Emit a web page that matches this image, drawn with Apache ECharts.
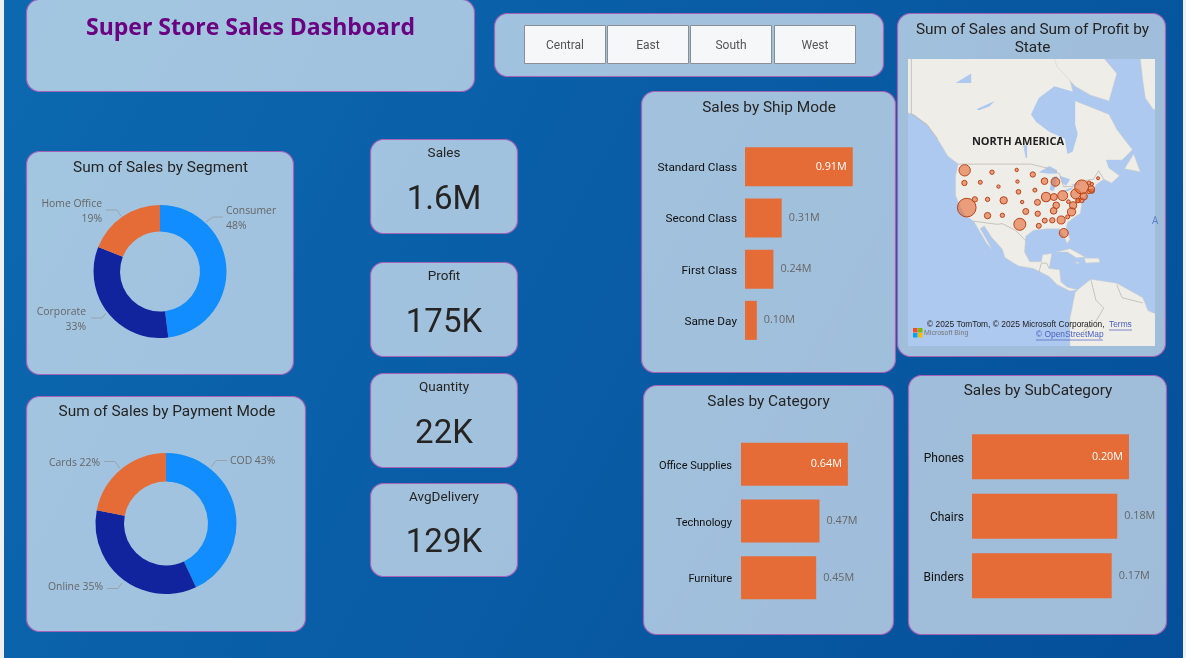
<!DOCTYPE html>
<html><head><meta charset="utf-8">
<style>html,body{margin:0;padding:0;background:#f0f0f0}#c{width:1186px;height:658px}</style>
<script src="https://cdn.jsdelivr.net/npm/echarts@6/dist/echarts.min.js"></script></head>
<body><div id="c"></div>
<script>
// ---------- data ----------
const segmentNames = ['Consumer','Corporate','Home Office'];
const segmentValues = [48,33,19];
const paymentNames = ['COD','Online','Cards'];
const paymentValues = [43,35,22];
const shipModes = ['Standard Class','Second Class','First Class','Same Day'];
const shipSales = [0.91,0.31,0.24,0.10];
const categories = ['Office Supplies','Technology','Furniture'];
const categorySales = [0.64,0.47,0.45];
const subCategories = ['Phones','Chairs','Binders'];
const subCategorySales = [0.20,0.185,0.178];
const subCategoryLabels = ['0.20M','0.18M','0.17M'];
const kpiNames = ['Sales','Profit','Quantity','AvgDelivery'];
const kpiValues = ['1.6M','175K','22K','129K'];
const regions = ['Central','East','South','West'];
const stateNames = ['WA','OR','ID','MT','WY','ND','SD','NE','KS','OK','TX','NM','AZ','UT','CO','NV','CA','MN','IA','MO','AR','LA','WI','IL','MI','IN','OH','KY','TN','MS','AL','GA','FL','SC','NC','VA','WV','PA','NY','MD','DE','NJ','CT','RI','MA','VT','NH','ME','DC'];
const stateLons = [-120.5,-120.6,-114.5,-110,-107.5,-100.5,-100.2,-99.8,-98.4,-97,-99.3,-106,-111.7,-111.7,-105.5,-116.6,-119.7,-94.3,-93.5,-92.5,-92.4,-92,-89.8,-89.2,-85.6,-86.2,-82.8,-85.3,-86.3,-89.7,-86.8,-83.4,-82.4,-80.9,-79.4,-78.8,-80.6,-77.8,-75.5,-76.8,-75.5,-74.7,-72.7,-71.5,-71.8,-72.7,-71.6,-69.2,-77];
const stateLats = [47.4,44,44.2,46.9,43,47.5,44.4,41.5,38.5,35.6,31.5,34.4,34.3,39.3,39,39.3,36.8,46.3,42,38.4,34.9,31,44.5,40,44.3,40,40.4,37.5,35.8,32.7,32.8,32.9,28.6,33.9,35.5,37.5,38.6,40.9,42.9,39,39,40.2,41.6,41.7,42.3,44,43.7,45.3,38.9];
const stateSales = [168,37,21,25,15,15,15,29,15,47,189,25,53,25,71,37,457,37,21,47,37,33,58,114,98,64,131,58,58,33,37,84,106,21,91,71,18,131,257,25,29,71,25,25,58,21,15,12,25];
// rough basemap outlines, [lon, lat]
const oceanOutline = [[[-143,70],[-47,70],[-47,-14],[-143,-14]]];
const landOutlines = [
 [[-168,66],[-156,71],[-141,70],[-128,70],[-110,72],[-95,72],[-85,70],[-80,66],[-78,62.5],[-70,61],[-65,60],[-62,57],[-56,52.5],[-60,50],[-66,50],[-65,48],[-61,46],[-64,44],[-67,45],[-70,43.5],[-71,41.5],[-74,40.5],[-75.5,38],[-76,35],[-78,34],[-81,32],[-81.5,30],[-80,26.5],[-81,25],[-82.7,28],[-84,30],[-89,30],[-94,29.5],[-97,27.5],[-97.5,22],[-95.5,18.5],[-91,18.5],[-90.5,21],[-87,21.5],[-88,16],[-84,15.5],[-83.5,11],[-81,9],[-77,8],[-80,7.5],[-85,10],[-88,13],[-94,16],[-100,17],[-105,20],[-106,23],[-110,27],[-113,31],[-114.5,30],[-110,23],[-112,25],[-115,29.5],[-117,32.5],[-120.5,34.5],[-122.5,37.5],[-124,40.5],[-124,46],[-123,49],[-127,51],[-131,55],[-135,58],[-140,60],[-147,61],[-152,59],[-160,55],[-165,55],[-160,59],[-165,62]],
 [[-80,74],[-62,67],[-65,62.5],[-72,63.5],[-78,65],[-85,68],[-90,73]],
 [[-54,72],[-52,66],[-51,63],[-48,61],[-40,60],[-30,70]],
 [[-59,47.8],[-55.5,51.5],[-53,47]],
 [[-85,22],[-80,23.2],[-74.2,20.2],[-77.5,19.9],[-81,22]],
 [[-74.4,19.8],[-69,19.8],[-68.5,18.3],[-74,18]],
 [[-78.3,18.4],[-76.3,18.2],[-77,17.8]],
 [[-77,8],[-72,12],[-62,10.5],[-52,5],[-50,0],[-35,-6],[-35,-20],[-80,-20],[-80,-3],[-79,2],[-78,7]]
];
const waterOutlines = [
 [[-95,60],[-92,63],[-86,65],[-78,64],[-70,62.5],[-78,62.5],[-78,58],[-77,56],[-79,52],[-81,51.5],[-82,55],[-88,56.5],[-93,58.5]],
 [[-92,46.8],[-88,48.5],[-85,47.5],[-85,46.6],[-88,46.5]],
 [[-87.8,42],[-87,45.5],[-85,46],[-85.5,43],[-86.5,41.7]],
 [[-84,46],[-80,45],[-81.5,43.2],[-83,44]],
 [[-83.3,41.7],[-79,42.8],[-79,42.3],[-81.5,41.5]],
 [[-79.7,43.5],[-76.3,44],[-76.3,43.4],[-78.5,43.3]],
 [[-98,53.5],[-96.5,53.5],[-96.5,50.5],[-97,50.5]],
 [[-116,61],[-109,62.5],[-111,61.5],[-115,60.8]],
 [[-124,65.5],[-118,67],[-118,65.5]],
 [[-66,50],[-60,50],[-62,47],[-65,48]]
];
const borderLines = [
 [[-123,49],[-95,49],[-89,48],[-84,46.5],[-82.5,43],[-79,43],[-76,44.5],[-71,45],[-69,47.3],[-67,45]],
 [[-141,70],[-141,60],[-135,58],[-131,55]],
 [[-117,32.5],[-108,31.5],[-106,31.7],[-101,29.5],[-97,26]],
 [[-92,14.5],[-91,18],[-89,18],[-88,16]],
 [[-72,12],[-70,4],[-67,1],[-70,-4],[-75,-8]],
 [[-62,10],[-60,5],[-52,3]]
];
// ---------- helpers ----------
const merc = lat => Math.log(Math.tan(Math.PI/4 + lat*Math.PI/360));
const fontMain = 'Roboto';
const fontLabel = '"Open Sans"';
const accent = '#E66C37', blue = '#118DFF', navy = '#12239E', oceanColor = '#aec9f0';
const panels = [
 [27,0,447,91],[495,14,388,62],[898,14,267,342],[642,92,253,280],[27,152,266,222],[27,397,278,234],
 [371,140,146,93],[371,263,146,93],[371,374,146,93],[371,484,146,92],[644,386,249,248],[909,376,257,258]
];
const graphics = [];
panels.forEach(p => graphics.push({type:'rect',silent:true,z:0,shape:{x:p[0]-.5,y:p[1]-.5,width:p[2]+1,height:p[3]+1,r:13},
  style:{fill:'rgba(255,255,255,0.62)',stroke:'#a762b8',lineWidth:1.2}}));
graphics.push({type:'rect',silent:true,z:0,shape:{x:0,y:0,width:4,height:658},style:{fill:'#f0f0f0'}});
graphics.push({type:'rect',silent:true,z:0,shape:{x:1183,y:0,width:3,height:658},style:{fill:'#f0f0f0'}});
const btnX = [524,607,690,774];
regions.forEach((r,i) => {
  graphics.push({type:'rect',silent:true,z:1,shape:{x:btnX[i]+.5,y:25.5,width:81,height:38},style:{fill:'#f5f7f9',stroke:'#8a8f96',lineWidth:1}});
  graphics.push({type:'text',silent:true,z:2,x:btnX[i]+41,y:46,style:{text:r,fill:'#555',font:'12px '+fontMain,align:'center',verticalAlign:'middle'}});
});
// map captions
const mapText = (t,x,y,font,fill,align) => graphics.push({type:'text',silent:true,z:20,x,y,style:{text:t,font,fill,align:align||'left',verticalAlign:'middle'}});
mapText('NORTH AMERICA',1018,142,'bold 11px "Open Sans"','#222','center');
mapText('© 2025 TomTom, © 2025 Microsoft Corporation,',927,325,'8.4px "Liberation Sans"','#222');
mapText('Terms',1109,325,'8.4px "Liberation Sans"','#4a5fc0');
mapText('© OpenStreetMap',1036,335,'8.4px "Liberation Sans"','#4a5fc0');
mapText('Microsoft Bing',924,333,'7px "Liberation Sans"','#777');
mapText('A',1152,221,'10px "Open Sans"','#5a80c8');
[[913,328,'#f25022'],[918,328,'#7fba00'],[913,333,'#00a4ef'],[918,333,'#ffb900']].forEach(s =>
  graphics.push({type:'rect',silent:true,z:20,shape:{x:s[0],y:s[1],width:4.5,height:4.5},style:{fill:s[2]}}));
graphics.push({type:'line',silent:true,z:20,shape:{x1:1109,y1:330,x2:1132,y2:330},style:{stroke:'#4a5fc0',lineWidth:.7}});
graphics.push({type:'line',silent:true,z:20,shape:{x1:1036,y1:340,x2:1103,y2:340},style:{stroke:'#4a5fc0',lineWidth:.7}});

const chartTitle = (text,cx,top) => ({text,left:cx,top,padding:0,textAlign:'center',
  textStyle:{fontFamily:fontMain,fontSize:15.4,fontWeight:'normal',color:'#252423',lineHeight:18}});
const titles = [
 {text:'Super Store Sales Dashboard',left:250.5,top:12,padding:0,textAlign:'center',textStyle:{fontFamily:'"Open Sans"',fontSize:23,fontWeight:'bold',color:'#6a0080',lineHeight:32}},
 chartTitle('Sum of Sales by Segment',160.5,159),
 chartTitle('Sum of Sales by Payment Mode',167,403),
 chartTitle('Sales by Ship Mode',769,99),
 chartTitle('Sales by Category',768.5,393),
 chartTitle('Sales by SubCategory',1038,382),
 chartTitle('Sum of Sales and Sum of Profit by\nState',1032.5,21)
];
const kpiTop = [147,270,381,491], kpiValTop = [184,307,418,527];
kpiNames.forEach((n,i) => {
  titles.push({text:n,left:444,top:kpiTop[i],padding:0,textAlign:'center',textStyle:{fontFamily:fontMain,fontSize:13.5,fontWeight:'normal',color:'#252423'}});
  titles.push({text:kpiValues[i],left:444,top:kpiValTop[i],padding:0,textAlign:'center',textStyle:{fontFamily:fontMain,fontSize:33,fontWeight:400,color:'#252423'}});
});

const barGrid = (l,t,w,h) => ({left:l,top:t,width:w,height:h,containLabel:false});
const grids = [
  barGrid(745,141,118.4,205),
  barGrid(741,436,167,170),
  barGrid(972,427,785*0.25,178.5),
  {left:908,top:59,width:247,height:287}
];
const xAxes = [
  {gridIndex:0,type:'value',min:0,max:1,show:false},
  {gridIndex:1,type:'value',min:0,max:1,show:false},
  {gridIndex:2,type:'value',min:0,max:0.25,show:false},
  {gridIndex:3,type:'value',min:-142.3,max:-47.3,show:false}
];
const catAxis = (gi,data,size,margin,drop) => ({gridIndex:gi,type:'category',inverse:true,data,axisLine:{show:false},axisTick:{show:false},
  axisLabel:{margin,formatter:v=>'{a|'+v+'}',
    rich:{a:{color:'#111',fontFamily:fontMain,fontSize:size,padding:[drop,0,0,0]}}}});
const yAxes = [catAxis(0,shipModes,11.8,8,3),catAxis(1,categories,11,9,4),catAxis(2,subCategories,12,8,4),
  {gridIndex:3,type:'value',min:-0.237,max:1.689,show:false}];

const barSeries = (gi,vals,bw,labels) => ({type:'bar',xAxisIndex:gi,yAxisIndex:gi,barWidth:bw,silent:true,
  data:vals.map((v,i) => ({value:v,itemStyle:{color:accent},
    label:{show:true,position:i===0?'insideRight':'right',distance:i===0?6:7,color:i===0?'#fff':'#666',
      fontFamily:fontLabel,fontSize:10.8,
      formatter:labels?labels[i]:v.toFixed(2)+'M'}}))});

const pieSeries = (names,vals,cx,cy,rIn,rOut,labelText,labelPos) => ({type:'pie',silent:true,
  center:[cx,cy],radius:[rIn,rOut],startAngle:90,clockwise:true,
  data:names.map((n,i)=>({name:n,value:vals[i],itemStyle:{color:[blue,navy,accent][i]}})),
  label:{show:true,position:'outside',color:'#666',fontFamily:fontLabel,fontSize:10.4,lineHeight:15,formatter:labelText},
  labelLine:{show:true,length:6,length2:10,smooth:false,lineStyle:{color:'#9aa3ad',width:1}},
  labelLayout:p => labelPos[p.dataIndex]
});

const outlineData = arr => arr.map((p,i)=>[p[0][0],merc(p[0][1]),i]);
const polySeries = (arr,fill,z,stroke) => ({type:'custom',xAxisIndex:3,yAxisIndex:3,silent:true,clip:true,z,
  data:outlineData(arr),
  renderItem:(params,api) => ({type:'polygon',
    shape:{points:arr[params.dataIndex].map(pt=>api.coord([pt[0],merc(pt[1])]))},
    style:{fill,stroke:stroke||fill,lineWidth:stroke?.5:0}})});
const lineSeries = {type:'custom',xAxisIndex:3,yAxisIndex:3,silent:true,clip:true,z:4,
  data:outlineData(borderLines),
  renderItem:(params,api) => ({type:'polyline',
    shape:{points:borderLines[params.dataIndex].map(pt=>api.coord([pt[0],merc(pt[1])]))},
    style:{fill:'none',stroke:'#bdb9b2',lineWidth:.8}})};

const bubbleSeries = {type:'scatter',xAxisIndex:3,yAxisIndex:3,silent:true,z:5,
  data:stateNames.map((s,i)=>({name:s,value:[stateLons[i],merc(stateLats[i]),stateSales[i]]})),
  symbolSize:v=>Math.sqrt(v[2])*0.873,
  itemStyle:{color:'rgba(230,108,55,0.62)',borderColor:'#b8441c',borderWidth:1,opacity:1}};

const option = {
  animation:false,
  backgroundColor:new echarts.graphic.LinearGradient(0,0,1,1,[{offset:0,color:'#0c69b0'},{offset:1,color:'#054f9a'}]),
  title:titles,
  graphic:graphics,
  grid:grids,xAxis:xAxes,yAxis:yAxes,
  series:[
    barSeries(0,shipSales,39),
    barSeries(1,categorySales,43),
    barSeries(2,subCategorySales,45,subCategoryLabels),
    pieSeries(segmentNames,segmentValues,160,271.5,40,66.5,'{b}\n{d}%',[
      {x:226,y:219,align:'left',verticalAlign:'middle',labelLinePoints:[[206,222],[213,217],[223,217]]},
      {x:86,y:320,align:'right',verticalAlign:'middle',labelLinePoints:[[106,313],[102,318],[91,318]]},
      {x:102,y:212,align:'right',verticalAlign:'middle',labelLinePoints:[[121,216],[117,210],[106,210]]}]),
    pieSeries(paymentNames,paymentValues,166,523.5,42,70.5,'{b} {d}%',[
      {x:230,y:461,align:'left',verticalAlign:'middle',labelLinePoints:[[211,467],[216,460.5],[227,460.5]]},
      {x:103,y:587,align:'right',verticalAlign:'middle',labelLinePoints:[[122,583],[118,588.5],[107,588.5]]},
      {x:100,y:463,align:'right',verticalAlign:'middle',labelLinePoints:[[120,468.5],[115,461.5],[104,461.5]]}]),
    polySeries(oceanOutline,oceanColor,1),
    polySeries(landOutlines,'#eeede8',2,'#cfccc6'),
    polySeries(waterOutlines,oceanColor,3),
    lineSeries,
    bubbleSeries
  ]
};
const chart = echarts.init(document.getElementById('c'),null,{renderer:'canvas'});
chart.setOption(option);
</script></body></html>
